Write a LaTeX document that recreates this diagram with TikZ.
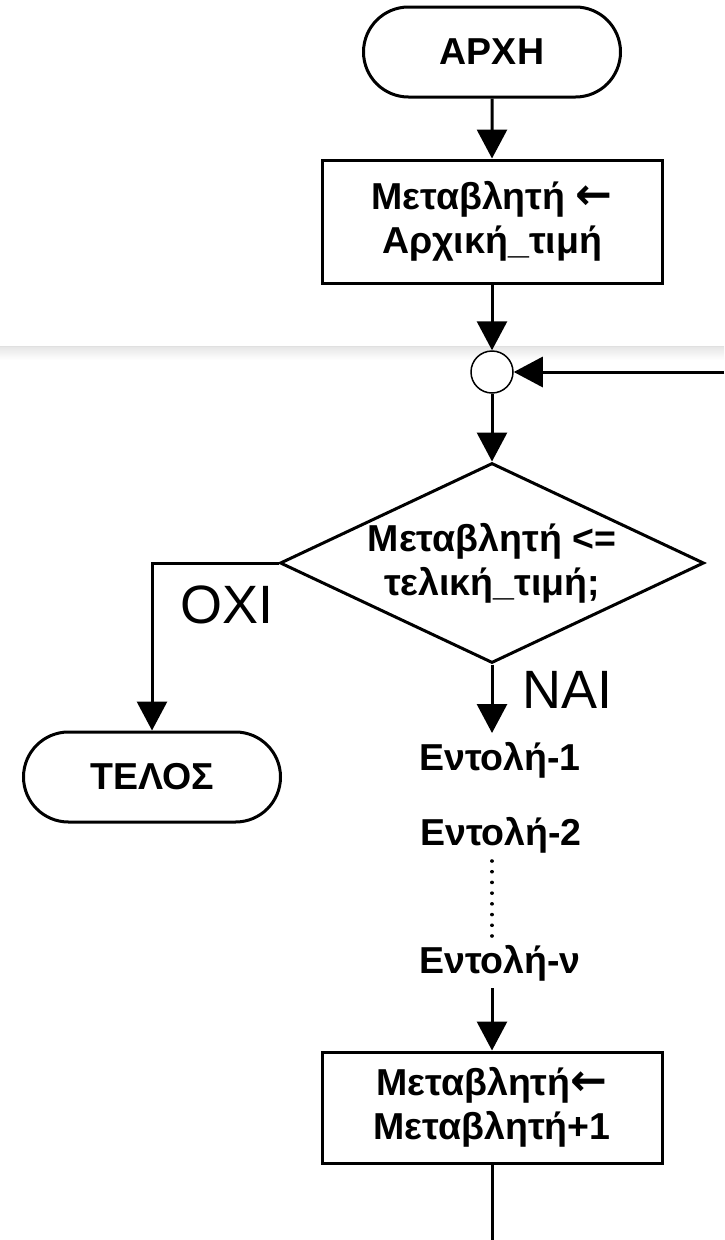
\documentclass[tikz,border=0pt]{standalone}
\usepackage{fontspec}
\setmainfont{Liberation Sans}
\newfontfamily\arrowfont{DejaVu Sans}
\usetikzlibrary{arrows.meta,shapes.geometric,shapes.misc}
\newcommand{\larr}{{\arrowfont\bfseries\fontsize{44}{44}\selectfont ←}}

\begin{document}
\begin{tikzpicture}[x=1pt,y=-1pt,
  line width=3pt,
  every node/.style={inner sep=0pt},
  bfont/.style={font=\fontsize{37.5}{44}\selectfont\bfseries},
  terminal/.style={rounded rectangle, draw, minimum width=257pt, minimum height=90pt, bfont},
  procbox/.style={rectangle, draw, minimum width=340pt, bfont, align=center},
  decision/.style={diamond, draw, aspect=2.12, minimum width=424pt, minimum height=200pt, bfont, align=center},
  conn/.style={circle, draw, line width=1.5pt, fill=white, minimum size=42pt},
  stmt/.style={bfont, anchor=base},
  yesno/.style={font=\fontsize{54}{54}\selectfont, anchor=base west},
  flow/.style={-{Triangle[length=29pt,width=30pt]}},
]
\useasboundingbox (0,0) rectangle (724,1240);
% faint page-separator band
\shade[top color=black!10, bottom color=white] (0,346) rectangle (724,360);
\draw[black!12, line width=1.5pt] (0,346.5) -- (724,346.5);

\node[terminal] (start) at (492,52) {ΑΡΧΗ};
\node[procbox, minimum height=123pt] (init) at (492,221.5) {Μεταβλητή \larr\\Αρχική\_τιμή};
\node[conn] (join) at (492,372) {};
\node[decision] (test) at (492,563) {Μεταβλητή <=\\τελική\_τιμή;};
\node[terminal] (stop) at (152,777) {ΤΕΛΟΣ};
\node[stmt] (s1) at (500,770) {Εντολή-1};
\node[stmt] (s2) at (501,845) {Εντολή-2};
\node[stmt] (sn) at (500,973) {Εντολή-ν};
\node[procbox, minimum height=111pt] (inc) at (492,1107.5) {Μεταβλητή\larr\\Μεταβλητή+1};
\node[yesno] (no) at (179,623) {ΟΧΙ};
\node[yesno] (yes) at (521,708) {ΝΑΙ};

\coordinate (loopin) at (724,372);
\coordinate (nobend) at (152,563);
\coordinate (yestip) at (492,733);
\coordinate (dtop) at (492,861);
\coordinate (dbot) at (492,936);
\coordinate (nstart) at (492,988);
\coordinate (out) at (492,1240);

\draw[flow] (start) -- (init);
\draw[flow] (init) -- (join);
\draw[flow] (loopin) -- (join);
\draw[flow] (join) -- (test);
\draw[flow] (test.west) -- (nobend) -- (stop);
\draw[flow] (test.south) -- (yestip);
\draw[line width=3.6pt, dash pattern=on 0.01pt off 10.7pt, line cap=round] (dtop) -- (dbot);
\draw[flow] (nstart) -- (inc);
\draw (inc) -- (out);
\end{tikzpicture}
\end{document}
